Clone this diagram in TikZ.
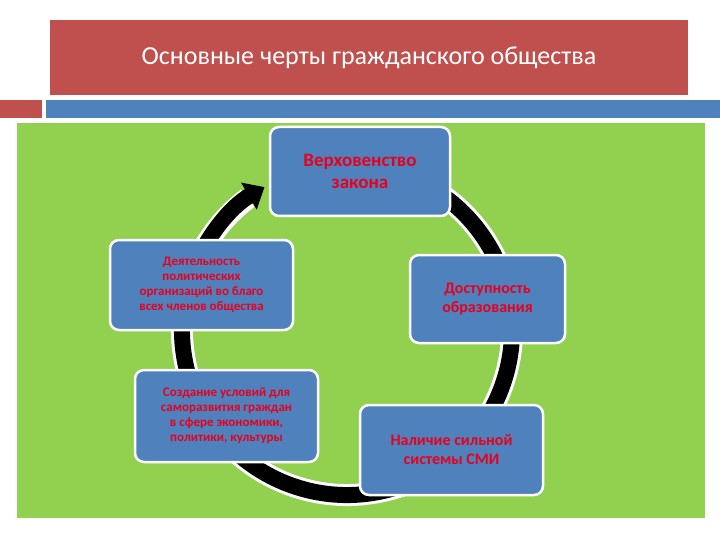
\documentclass[tikz,border=0pt]{standalone}
\usepackage{fontspec}
\setmainfont{Carlito}
\usetikzlibrary{arrows.meta}
\definecolor{tred}{HTML}{C0504D}
\definecolor{tblue}{HTML}{4F81BD}
\definecolor{tgreen}{HTML}{92D050}
\definecolor{txt}{HTML}{E8001C}
\tikzset{box/.style={draw=white,line width=2.5pt,fill=tblue,rounded corners=9pt,text=txt,align=center,font=\bfseries,inner sep=2pt}}
\begin{document}
\begin{tikzpicture}[x=1pt,y=-1pt]
\useasboundingbox (0,0) rectangle (720,540);
\fill[white] (0,0) rectangle (720,540);
\node[fill=tred,minimum width=638pt,minimum height=75pt,inner sep=0,text=white,font=\fontsize{26}{30}\selectfont] (title) at (369,57.5) {Основные черты гражданского общества};
\fill[tred] (0,100) rectangle (42,118);
\fill[tblue] (46,100) rectangle (720,118);
\fill[tgreen] (17,123) rectangle (705,518);
\coordinate (c) at (347,330);
\draw[white,line width=22pt] ([shift={(-70:165)}]c) arc[start angle=-70,end angle=233,radius=165];
\draw[black,line width=16pt,-{Triangle[length=18pt,width=30pt]}] ([shift={(-70:165)}]c) arc[start angle=-70,end angle=240,radius=165];
\node[box,minimum width=180pt,minimum height=89pt,font=\fontsize{19}{22}\selectfont\bfseries] (top) at (360,171.5) {Верховенство\\закона};
\node[box,minimum width=155pt,minimum height=88pt,font=\fontsize{16}{19}\selectfont\bfseries] (right) at (487.5,299) {Доступность\\образования};
\node[box,minimum width=183pt,minimum height=90pt,font=\fontsize{16}{19}\selectfont\bfseries] (br) at (451.5,450) {Наличие сильной\\системы СМИ};
\node[box,minimum width=183pt,minimum height=92pt,font=\fontsize{13}{15}\selectfont\bfseries] (bl) at (226.5,416) {Создание условий для\\саморазвития граждан\\в сфере экономики,\\политики, культуры};
\node[box,minimum width=183pt,minimum height=90pt,font=\fontsize{13}{15}\selectfont\bfseries] (left) at (201.5,285) {Деятельность\\политических\\организаций во благо\\всех членов общества};
\end{tikzpicture}
\end{document}
